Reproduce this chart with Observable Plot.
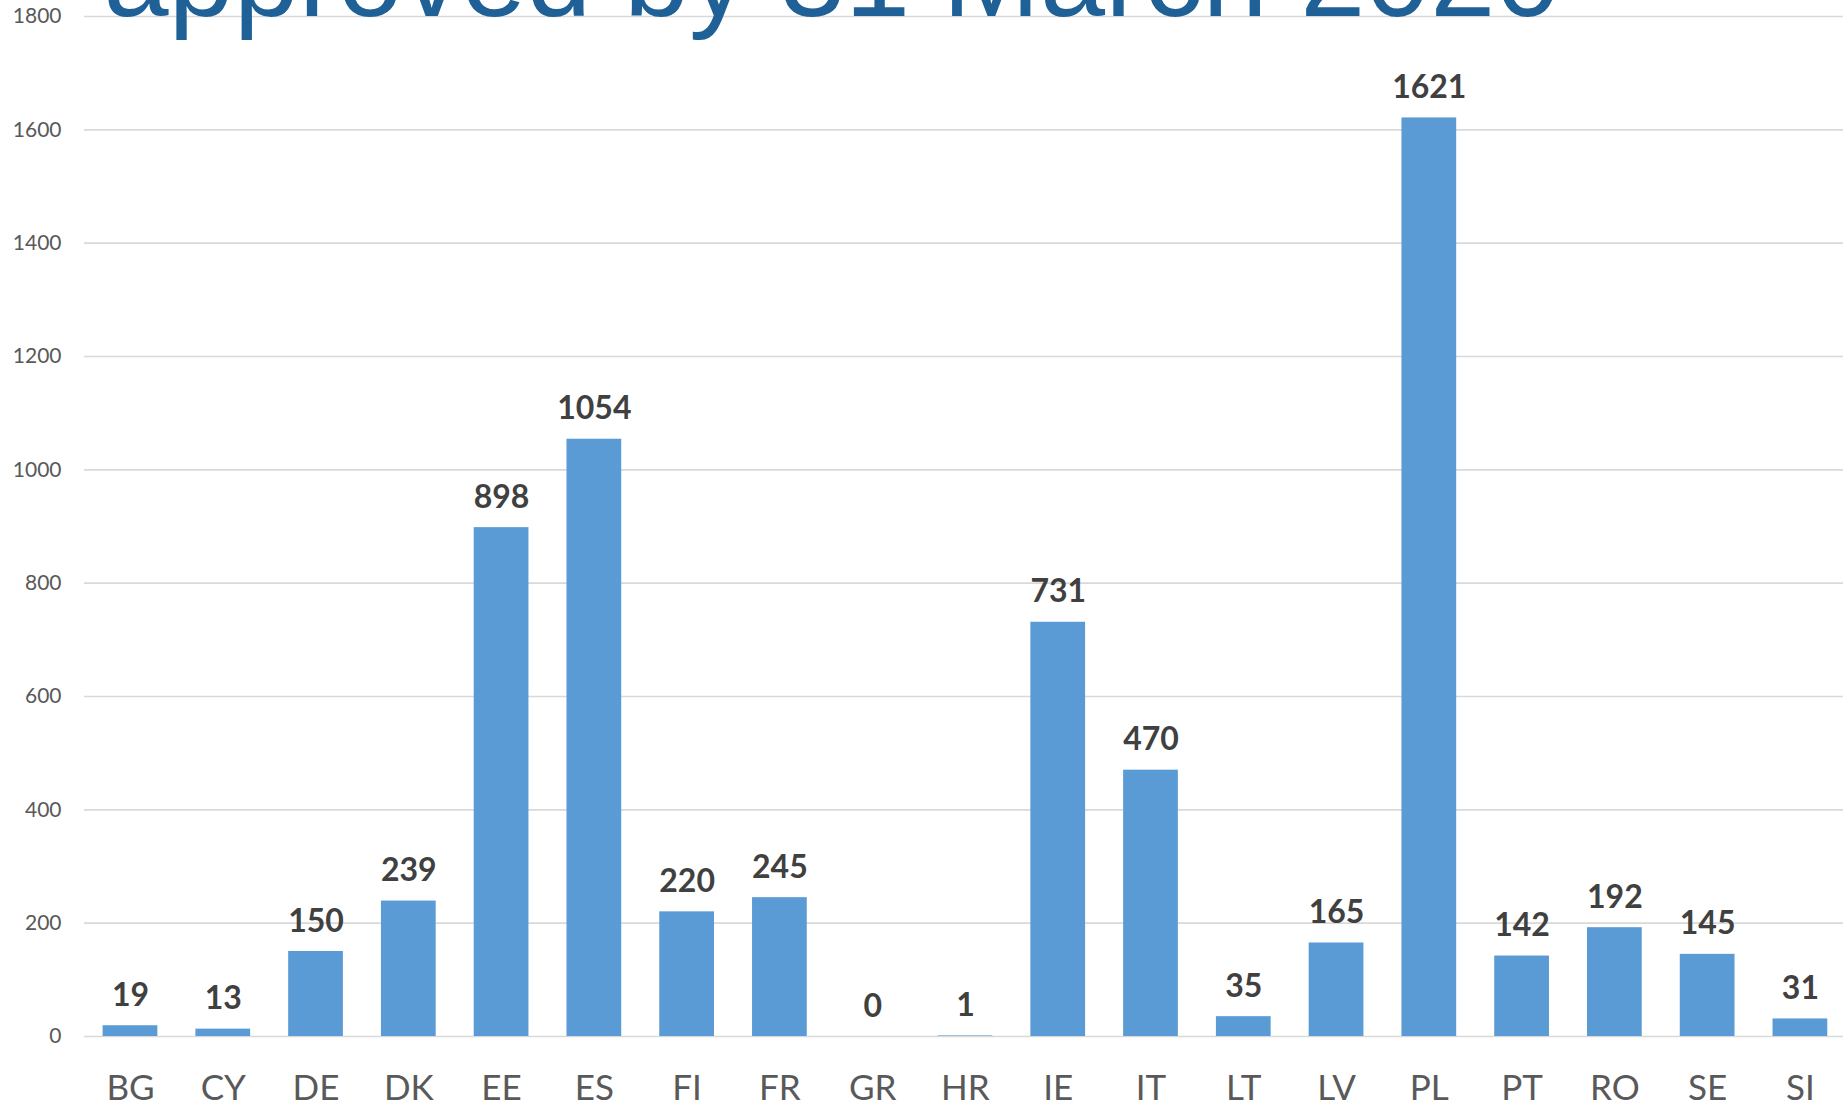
<!DOCTYPE html>
<html>
<head>
<meta charset="utf-8">
<script src="https://cdn.jsdelivr.net/npm/d3@7"></script>
<script src="https://cdn.jsdelivr.net/npm/@observablehq/plot@0.6"></script>
<style>
  html, body { margin: 0; padding: 0; background: #fff; overflow: hidden; }
  #chart svg { display: block; }
</style>
</head>
<body>
<div id="chart"></div>
<script>
const titleText = "approved by 31 March 2020";
const countries = ["BG","CY","DE","DK","EE","ES","FI","FR","GR","HR","IE","IT","LT","LV","PL","PT","RO","SE","SI"];
const values = [19,13,150,239,898,1054,220,245,0,1,731,470,35,165,1621,142,192,145,31];
const yTicks = [0,200,400,600,800,1000,1200,1400,1600,1800];

const data = countries.map((c, i) => ({country: c, value: values[i]}));

const chart = Plot.plot({
  width: 1843,
  height: 1108,
  marginLeft: 84,
  marginRight: 0,
  marginTop: 16,
  marginBottom: 72,
  style: {fontFamily: "Lato, 'Open Sans', sans-serif", background: "#fff"},
  x: {domain: countries, range: [83.6, 1846.3], paddingInner: 0.41, paddingOuter: 0.205, align: 0.5, round: false},
  y: {domain: [0, 1800]},
  marks: [
    Plot.gridY(yTicks, {stroke: "#d9d9d9", strokeOpacity: 1, strokeWidth: 1.6}),
    Plot.barY(data, {x: "country", y: "value", fill: "#5b9bd5"}),
    Plot.text(data, {x: "country", y: "value", text: d => String(d.value), dy: -20, lineAnchor: "bottom",
      fontSize: 32, fontWeight: "bold", fill: "#404040"}),
    Plot.axisY(yTicks, {tickSize: 0, tickPadding: 23, fontSize: 21, fill: "#595959", label: null, tickFormat: d => String(d)}),
    Plot.axisX({tickSize: 0, tickPadding: 39, fontSize: 35, fill: "#595959", label: null}),
    Plot.text([titleText], {text: d => d, frameAnchor: "top-left", textAnchor: "start", lineAnchor: "bottom",
      dx: 19, dy: -1, fontSize: 117, fontFamily: "'Liberation Sans', Arial, sans-serif", fill: "#1f6196"})
  ]
});
document.getElementById("chart").appendChild(chart);
</script>
</body>
</html>
